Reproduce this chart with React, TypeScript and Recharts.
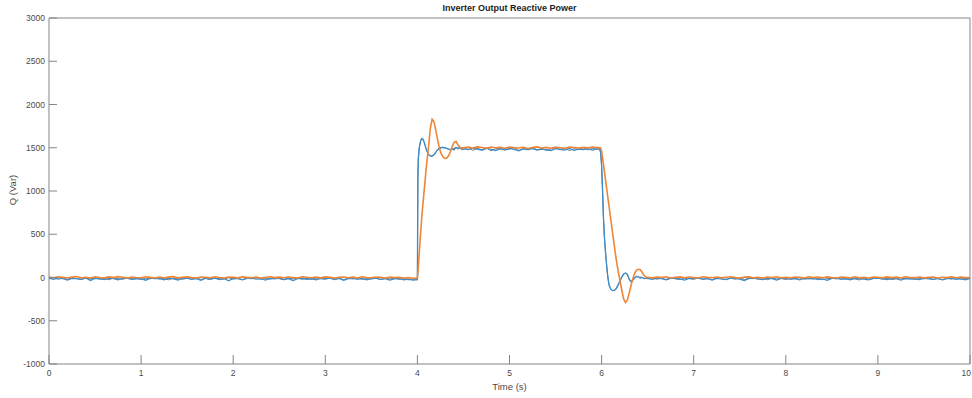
import { LineChart, Line, XAxis, YAxis } from "recharts";

// sample times (s)
const timeA = [
  0, 0.05, 0.1, 0.15, 0.2, 0.25, 0.3, 0.35, 0.4, 0.45,
  0.5, 0.55, 0.6, 0.65, 0.7, 0.75, 0.8, 0.85, 0.9, 0.95,
  1, 1.05, 1.1, 1.15, 1.2, 1.25, 1.3, 1.35, 1.4, 1.45,
  1.5, 1.55, 1.6, 1.65, 1.7, 1.75, 1.8, 1.85, 1.9, 1.95,
  2, 2.05, 2.1, 2.15, 2.2, 2.25, 2.3, 2.35, 2.4, 2.45,
  2.5, 2.55, 2.6, 2.65, 2.7, 2.75, 2.8, 2.85, 2.9, 2.95,
  3, 3.05, 3.1, 3.15, 3.2, 3.25, 3.3, 3.35, 3.4, 3.45,
  3.5, 3.55, 3.6, 3.65, 3.7, 3.75, 3.8, 3.85, 3.9, 3.95,
];
const timeB = [
  4, 4.005, 4.01, 4.02, 4.03, 4.04, 4.05, 4.06, 4.07, 4.08, 4.09, 4.1, 4.12, 4.14, 4.16,
  4.18, 4.2, 4.22, 4.24, 4.26, 4.28, 4.3, 4.32, 4.34, 4.36, 4.38, 4.4, 4.42, 4.44, 4.46, 4.48,
];
const timeC = [
  4.5, 4.55, 4.6, 4.65, 4.7, 4.75, 4.8, 4.85, 4.9, 4.95,
  5, 5.05, 5.1, 5.15, 5.2, 5.25, 5.3, 5.35, 5.4, 5.45,
  5.5, 5.55, 5.6, 5.65, 5.7, 5.75, 5.8, 5.85, 5.9, 5.95,
];
const timeD = [
  5.98, 5.99, 6, 6.01, 6.02, 6.03, 6.04, 6.05, 6.06, 6.07, 6.08, 6.09, 6.1, 6.12, 6.14, 6.16,
  6.18, 6.2, 6.22, 6.24, 6.26, 6.28, 6.3, 6.32, 6.34, 6.36, 6.38, 6.4, 6.42, 6.44, 6.46, 6.48,
];
const timeE = [
  6.5, 6.55, 6.6, 6.65, 6.7, 6.75, 6.8, 6.85, 6.9, 6.95,
  7, 7.05, 7.1, 7.15, 7.2, 7.25, 7.3, 7.35, 7.4, 7.45,
  7.5, 7.55, 7.6, 7.65, 7.7, 7.75, 7.8, 7.85, 7.9, 7.95,
  8, 8.05, 8.1, 8.15, 8.2, 8.25, 8.3, 8.35, 8.4, 8.45,
  8.5, 8.55, 8.6, 8.65, 8.7, 8.75, 8.8, 8.85, 8.9, 8.95,
  9, 9.05, 9.1, 9.15, 9.2, 9.25, 9.3, 9.35, 9.4, 9.45,
  9.5, 9.55, 9.6, 9.65, 9.7, 9.75, 9.8, 9.85, 9.9, 9.95, 10,
];

// measured Q (grey, noisy)
const grayA = [
  -15, -4, -20, -9, -18, -2, -14, -24, -7, -16,
  -3, -19, -11, -26, -6, -13, -21, -5, -17, -10,
  -23, -8, -15, -1, -18, -12, -27, -6, -14, -20,
  -9, -16, -4, -22, -11, -25, -7, -13, -19, -3,
  -17, -10, -24, -8, -15, -2, -21, -12, -18, -6,
  -14, -26, -9, -16, -4, -20, -11, -23, -7, -13,
  -19, -5, -17, -10, -25, -8, -15, -3, -22, -12,
  -18, -6, -24, -11, -16, -9, -21, -14, -27, -20,
];
const grayB = [
  -18, 1140, 1370, 1495, 1555, 1590, 1604, 1598, 1572, 1540, 1500, 1466, 1422, 1402, 1402,
  1418, 1447, 1475, 1493, 1500, 1502, 1498, 1490, 1481, 1475, 1488, 1470, 1510, 1482, 1505, 1476,
];
const grayC = [
  1482, 1505, 1470, 1492, 1478, 1500, 1466, 1488, 1497, 1474,
  1485, 1502, 1469, 1490, 1480, 1498, 1476, 1493, 1471, 1487,
  1503, 1479, 1494, 1468, 1489, 1481, 1499, 1475, 1491, 1484,
];
const grayD = [
  1485, 1435, 1290, 1010, 690, 470, 320, 195, 75, -15, -85, -112, -138, -150, -148, -125,
  -82, -38, 8, 42, 50, 33, -22, -48, -28, -3, 14, 5, -12, 8, -18, -6,
];
const grayE = [
  -14, -5, -19, -10, -22, -3, -16, -25, -8, -12,
  -20, -6, -17, -11, -27, -4, -15, -21, -9, -18,
  -2, -23, -13, -7, -19, -11, -26, -5, -16, -12,
  -24, -8, -14, -3, -21, -10, -18, -6, -25, -13,
  -9, -17, -4, -22, -11, -15, -28, -7, -19, -12,
  -5, -20, -10, -24, -14, -3, -18, -9, -23, -11,
  -16, -6, -21, -13, -26, -8, -17, -4, -19, -12, -15,
];

// Q, first controller (blue)
const blueA = [
  -8, -22, -5, -14, -30, -9, -12, -18, -6, -34,
  -11, -15, -25, -7, -13, -28, -10, -9, -20, -16,
  -12, -31, -7, -14, -11, -26, -8, -17, -29, -10,
  -6, -21, -13, -33, -9, -15, -7, -24, -12, -38,
  -10, -14, -27, -11, -6, -19, -13, -30, -9, -16,
  -8, -23, -12, -35, -14, -9, -20, -12, -28, -10,
  -15, -7, -25, -11, -32, -13, -9, -21, -10, -27,
  -14, -8, -22, -12, -31, -16, -10, -26, -18, -30,
];
const blueB = [
  -25, 1150, 1380, 1500, 1560, 1595, 1608, 1600, 1575, 1545, 1505, 1470, 1425, 1405, 1404,
  1420, 1450, 1478, 1495, 1503, 1505, 1500, 1492, 1484, 1478, 1481, 1492, 1502, 1498, 1494, 1497,
];
const blueC = [
  1490, 1478, 1495, 1483, 1470, 1492, 1481, 1468, 1488, 1476,
  1494, 1480, 1465, 1487, 1479, 1491, 1472, 1485, 1477, 1467,
  1489, 1482, 1474, 1493, 1470, 1484, 1478, 1490, 1473, 1486,
];
const blueD = [
  1490, 1440, 1300, 1020, 700, 480, 330, 200, 80, -10, -80, -110, -135, -152, -150, -128,
  -85, -40, 5, 40, 52, 35, -20, -50, -30, -5, 12, 8, 5, -5, -8, -10,
];
const blueE = [
  -9, -20, -6, -14, -27, -11, -8, -17, -31, -10,
  -13, -7, -22, -12, -29, -9, -15, -24, -8, -12,
  -19, -34, -11, -7, -16, -25, -10, -14, -30, -9,
  -6, -21, -13, -27, -8, -15, -11, -23, -17, -32,
  -10, -7, -20, -14, -26, -9, -12, -18, -28, -11,
  -8, -16, -24, -10, -13, -30, -9, -19, -12, -25,
  -7, -15, -22, -11, -28, -14, -9, -20, -13, -26, -10,
];

// Q, second controller (orange)
const orangeA = [
  6, -2, 9, 1, -5, 4, 11, -3, 3, -6,
  8, 0, -4, 7, -1, 10, 2, -7, 5, 0,
  -3, 9, 1, -5, 6, -2, 4, 10, -4, 2,
  7, -1, -6, 5, 3, -3, 8, 0, -5, 6,
  2, -4, 7, 1, -2, 5, -7, 3, 9, -1,
  4, -3, 6, 0, -5, 8, 2, -2, 5, -4,
  7, 1, -6, 3, 6, -2, 4, -5, 8, 0,
  -3, 5, 2, -7, 6, -1, 3, -6, -2, -9,
];
const orangeB = [
  -8, 40, 120, 280, 440, 590, 730, 850, 970, 1080, 1200, 1310, 1500, 1720, 1830,
  1800, 1700, 1590, 1490, 1425, 1390, 1378, 1382, 1410, 1460, 1520, 1565, 1572, 1535, 1505, 1495,
];
const orangeC = [
  1500, 1507, 1496, 1510, 1502, 1494, 1508, 1499, 1505, 1493,
  1509, 1501, 1497, 1506, 1492, 1503, 1510, 1498, 1504, 1495,
  1507, 1500, 1493, 1508, 1502, 1496, 1505, 1499, 1509, 1503,
];
const orangeD = [
  1500, 1495, 1460, 1390, 1310, 1230, 1150, 1070, 990, 910, 830, 750, 670, 510, 350, 200,
  70, -40, -150, -250, -290, -260, -180, -90, -10, 50, 85, 95, 90, 60, 25, 5,
];
const orangeE = [
  3, -4, 6, -1, 8, -5, 2, 7, -3, 5,
  0, -6, 9, 1, -2, 6, -4, 3, 8, -1,
  -5, 4, 7, -3, 2, -7, 5, 0, 9, -2,
  3, -4, 6, 1, -6, 8, -1, 4, -3, 7,
  0, -5, 5, 2, -2, 9, -4, 3, -6, 6,
  1, -3, 7, -1, 4, -5, 8, 0, -2, 5,
  -4, 3, 6, -6, 2, -1, 7, -3, 4, 0, -2,
];

const xTicks = [0, 1, 2, 3, 4, 5, 6, 7, 8, 9, 10];
const yTicks = [-1000, -500, 0, 500, 1000, 1500, 2000, 2500, 3000];

const time = [...timeA, ...timeB, ...timeC, ...timeD, ...timeE];
const qGray = [...grayA, ...grayB, ...grayC, ...grayD, ...grayE];
const qBlue = [...blueA, ...blueB, ...blueC, ...blueD, ...blueE];
const qOrange = [...orangeA, ...orangeB, ...orangeC, ...orangeD, ...orangeE];

const data = time.map((t, i) => ({
  t,
  gray: qGray[i] ?? null,
  blue: qBlue[i] ?? null,
  orange: qOrange[i] ?? null,
}));

const FONT = '"Liberation Sans", Arial, sans-serif';
const AXIS = "#858585";
const TXT = "#4a4a4a";
const tickStyle = { fontSize: 8.5, fill: TXT, fontFamily: FONT };

// bottom tick labels; the last one is pulled inside the frame so it isn't clipped
const XTick = (props: any) => {
  const { x, y, payload } = props;
  const last = payload.value === xTicks[xTicks.length - 1];
  return (
    <text
      x={last ? x + 1 : x}
      y={y}
      dy="0.71em"
      textAnchor={last ? "end" : "middle"}
      style={tickStyle}
    >
      {payload.value}
    </text>
  );
};

export default function App() {
  return (
    <div style={{ position: "absolute", left: 0, top: 0, width: 972, height: 398, background: "#fff", fontFamily: FONT }}>
      <div
        style={{
          position: "absolute", left: 49, width: 921, top: 2, textAlign: "center",
          fontSize: 9, fontWeight: "bold", color: "#1e1e1e", lineHeight: "12px",
        }}
      >
        Inverter Output Reactive Power
      </div>
      <div
        style={{
          position: "absolute", left: 49, width: 921, top: 381, textAlign: "center",
          fontSize: 9.5, color: TXT, lineHeight: "12px",
        }}
      >
        Time (s)
      </div>
      <div
        style={{
          position: "absolute", left: 13, top: 190, width: 0, height: 0,
        }}
      >
        <div
          style={{
            position: "absolute", transform: "translate(-50%, -50%) rotate(-90deg)",
            whiteSpace: "nowrap", fontSize: 9.5, color: TXT, lineHeight: "12px",
          }}
        >
          Q (Var)
        </div>
      </div>
      <LineChart
        width={972}
        height={398}
        data={data}
        margin={{ top: 17, right: 1, bottom: 14, left: 9 }}
        style={{ position: "absolute", left: 0, top: 0 }}
      >
        <XAxis
          xAxisId="bottom"
          dataKey="t"
          type="number"
          domain={[0, 10]}
          ticks={xTicks}
          interval={0}
          height={20}
          tickSize={-9}
          tickMargin={15}
          stroke={AXIS}
          tick={<XTick />}
        />
        <XAxis
          xAxisId="top"
          orientation="top"
          type="number"
          domain={[0, 10]}
          ticks={xTicks}
          interval={0}
          height={1}
          tickSize={-9}
          tick={false}
          stroke={AXIS}
        />
        <YAxis
          yAxisId="left"
          type="number"
          domain={[-1000, 3000]}
          ticks={yTicks}
          interval={0}
          width={40}
          tickSize={-8}
          tickMargin={12}
          stroke={AXIS}
          tick={tickStyle}
        />
        <YAxis
          yAxisId="right"
          orientation="right"
          type="number"
          domain={[-1000, 3000]}
          ticks={yTicks}
          interval={0}
          width={1}
          tickSize={-8}
          tick={false}
          stroke={AXIS}
        />
        <Line
          xAxisId="bottom"
          yAxisId="left"
          dataKey="gray"
          type="linear"
          stroke="#6f7780"
          strokeWidth={1}
          dot={false}
          isAnimationActive={false}
        />
        <Line
          xAxisId="bottom"
          yAxisId="left"
          dataKey="blue"
          type="linear"
          stroke="#3a8ccb"
          strokeWidth={1.3}
          dot={false}
          isAnimationActive={false}
        />
        <Line
          xAxisId="bottom"
          yAxisId="left"
          dataKey="orange"
          type="linear"
          stroke="#ef8536"
          strokeWidth={1.6}
          dot={false}
          isAnimationActive={false}
        />
      </LineChart>
    </div>
  );
}
